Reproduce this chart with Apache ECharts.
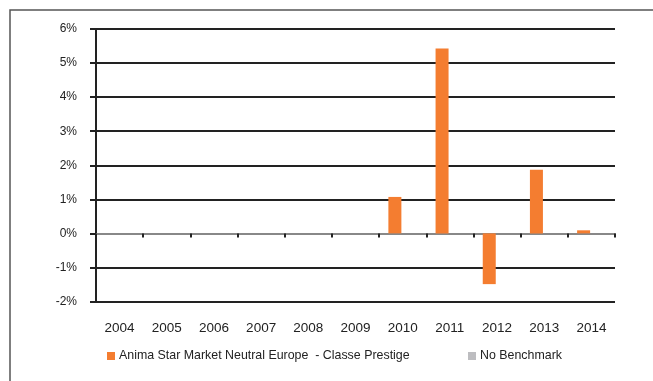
<!DOCTYPE html>
<html><head><meta charset="utf-8">
<script src="https://cdn.jsdelivr.net/npm/echarts@6/dist/echarts.min.js"></script>
<style>html,body{margin:0;padding:0;background:#fff}#c{width:653px;height:381px}</style>
</head><body><div id="c"></div>
<script>
const categories = ['2004','2005','2006','2007','2008','2009','2010','2011','2012','2013','2014'];
const fundName = 'Anima Star Market Neutral Europe  - Classe Prestige';
const benchName = 'No Benchmark';
const fundValues = [null,null,null,null,null,null,1.07,5.43,-1.49,1.87,0.09];
const benchValues = [null,null,null,null,null,null,null,null,null,null,null];
const yTicks = {min:-2, max:6, interval:1};

const chart = echarts.init(document.getElementById('c'));
const font = 'Liberation Sans, Arial, sans-serif';
chart.setOption({
  animation:false,
  graphic:[{type:'rect',shape:{x:10,y:10,width:700,height:420},style:{fill:'none',stroke:'#555',lineWidth:1.5},z:-1}],
  grid:{left:96,right:38,top:29,bottom:79.5},
  legend:[
    {left:107,top:350,padding:0,itemWidth:8,itemHeight:8,itemGap:5,icon:'rect',data:[fundName],textStyle:{fontFamily:font,fontSize:12.4,color:'#222',padding:[0,0,0,-1]}},
    {left:468,top:350,padding:0,itemWidth:8,itemHeight:8,icon:'rect',data:[benchName],textStyle:{fontFamily:font,fontSize:12.4,color:'#222',padding:[0,0,0,-1]}}
  ],
  xAxis:[
    {type:'category',data:categories,axisLine:{onZero:true,lineStyle:{color:'#888',width:2}},
     axisTick:{show:true,length:4,lineStyle:{color:'#222',width:2}},axisLabel:{show:false},splitLine:{show:false}},
    {type:'category',data:categories,position:'bottom',axisLine:{show:false},axisTick:{show:false},
     axisLabel:{margin:20,fontFamily:font,fontSize:13.5,color:'#222'}}
  ],
  yAxis:{type:'value',min:yTicks.min,max:yTicks.max,interval:yTicks.interval,
    axisLine:{show:true,lineStyle:{color:'#222',width:2}},
    axisTick:{show:true,length:6,lineStyle:{color:'#222',width:2}},
    splitLine:{lineStyle:{color:'#222',width:2}},
    axisLabel:{formatter:'{value}%',margin:19,fontFamily:font,fontSize:12,color:'#222'}},
  series:[
    {name:fundName,type:'bar',data:fundValues,barWidth:13,barGap:'20%',itemStyle:{color:'#F47D30'},xAxisIndex:0},
    {name:benchName,type:'bar',data:benchValues,barWidth:13,itemStyle:{color:'#BDBDC0'},xAxisIndex:0}
  ]
});
</script></body></html>
